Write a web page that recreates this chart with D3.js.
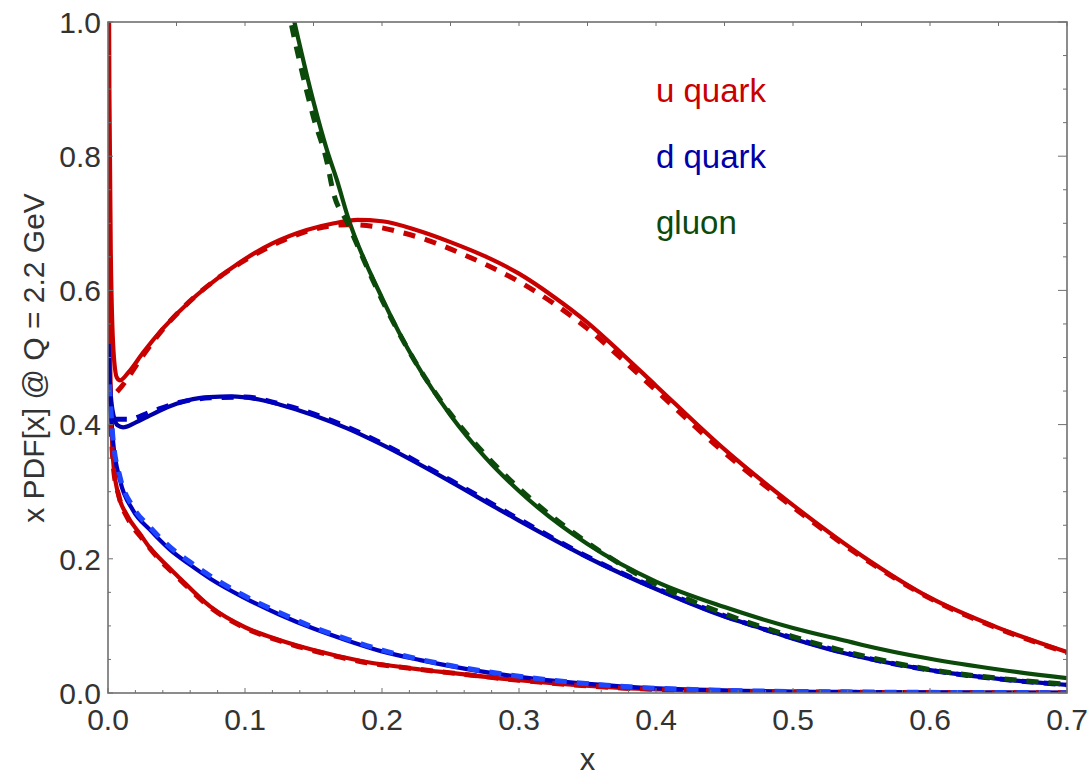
<!DOCTYPE html>
<html><head><meta charset="utf-8">
<script src="https://cdn.jsdelivr.net/npm/d3@7"></script>
<style>body{margin:0;background:#fff}svg{display:block}text{font-family:"Liberation Sans",Arial,sans-serif}</style>
</head><body><svg id="c" width="1090" height="776"></svg>
<script>
// ---- data (x, x*PDF) ----
const uSolid = [[0.0002,1.30],[0.001,0.90],[0.002,0.66],[0.004,0.51],[0.0065,0.470],[0.0088,0.466],[0.015,0.478],[0.0255,0.507],[0.04,0.543],[0.062,0.588],[0.08,0.618],[0.0964,0.642],[0.12,0.670],[0.145,0.690],[0.165,0.700],[0.182,0.705],[0.2,0.703],[0.225,0.690],[0.25,0.672],[0.275,0.651],[0.3,0.625],[0.325,0.591],[0.35,0.552],[0.375,0.506],[0.4,0.458],[0.45,0.363],[0.5,0.280],[0.55,0.205],[0.6,0.142],[0.65,0.097],[0.7,0.061]];
const uDashed = [[0.0066,0.449],[0.01,0.457],[0.0255,0.503],[0.04,0.542],[0.062,0.588],[0.08,0.618],[0.1,0.645],[0.125,0.672],[0.145,0.688],[0.175,0.698],[0.195,0.695],[0.213,0.687],[0.233,0.675],[0.26,0.653],[0.3,0.613],[0.325,0.581],[0.35,0.543],[0.375,0.498],[0.4,0.451],[0.45,0.358],[0.5,0.277],[0.55,0.203],[0.6,0.141],[0.65,0.096],[0.7,0.060]];
const dSolid = [[0.0003,0.52],[0.001,0.48],[0.002,0.445],[0.004,0.414],[0.007,0.399],[0.011,0.396],[0.02,0.403],[0.03,0.413],[0.038,0.421],[0.05,0.431],[0.062,0.438],[0.074,0.441],[0.09,0.442],[0.111,0.437],[0.125,0.430],[0.15,0.414],[0.175,0.394],[0.2,0.370],[0.25,0.315],[0.286,0.273],[0.3,0.257],[0.359,0.193],[0.4,0.155],[0.45,0.114],[0.476,0.097],[0.5,0.081],[0.54,0.058],[0.6,0.034],[0.65,0.021],[0.7,0.012]];
const dDashed = [[0.005,0.408],[0.015,0.408],[0.03,0.418],[0.05,0.432],[0.075,0.440],[0.1,0.441],[0.125,0.431],[0.15,0.416],[0.175,0.396],[0.2,0.372],[0.25,0.317],[0.3,0.259],[0.35,0.203],[0.4,0.156],[0.45,0.115],[0.5,0.082],[0.55,0.054],[0.6,0.034],[0.65,0.021],[0.7,0.012]];
const ubarSolid = [[0.0002,1.10],[0.001,0.60],[0.002,0.45],[0.0036,0.350],[0.007,0.300],[0.0139,0.265],[0.0234,0.237],[0.0307,0.216],[0.038,0.200],[0.05,0.176],[0.0745,0.129],[0.1,0.098],[0.125,0.079],[0.15,0.064],[0.184,0.048],[0.228,0.035],[0.25,0.030],[0.3,0.019],[0.374,0.0075],[0.45,0.003],[0.55,0.001],[0.7,0.0003]];
const ubarDashed = [[0.002,0.40],[0.004,0.335],[0.008,0.293],[0.015,0.258],[0.025,0.230],[0.038,0.198],[0.05,0.174],[0.075,0.127],[0.1,0.097],[0.125,0.078],[0.15,0.063],[0.184,0.047],[0.228,0.035],[0.25,0.030],[0.3,0.019],[0.374,0.0075],[0.45,0.003],[0.55,0.001],[0.7,0.0003]];
const dbarSolid = [[0.0002,0.52],[0.001,0.47],[0.0036,0.377],[0.0088,0.317],[0.018,0.273],[0.0307,0.243],[0.045,0.214],[0.06,0.191],[0.075,0.170],[0.0985,0.143],[0.125,0.117],[0.15,0.096],[0.175,0.078],[0.2,0.062],[0.228,0.049],[0.25,0.040],[0.3,0.024],[0.374,0.010],[0.45,0.004],[0.55,0.0015],[0.7,0.0005]];
const dbarDashed = [[0.001,0.46],[0.0036,0.380],[0.0088,0.322],[0.018,0.278],[0.0307,0.247],[0.045,0.218],[0.06,0.195],[0.075,0.174],[0.0985,0.146],[0.125,0.120],[0.15,0.098],[0.175,0.080],[0.2,0.064],[0.228,0.050],[0.25,0.041],[0.3,0.025],[0.374,0.010],[0.45,0.004],[0.55,0.0015],[0.7,0.0005]];
const gSolid = [[0.13,1.061],[0.135,1.01],[0.14,0.965],[0.15,0.881],[0.16,0.808],[0.167,0.765],[0.175,0.710],[0.2,0.589],[0.225,0.491],[0.25,0.414],[0.275,0.352],[0.3,0.301],[0.35,0.222],[0.4,0.166],[0.45,0.128],[0.476,0.111],[0.5,0.097],[0.54,0.077],[0.55,0.072],[0.6,0.051],[0.65,0.035],[0.7,0.022]];
const gDashed = [[0.128,1.06],[0.133,1.005],[0.14,0.94],[0.15,0.858],[0.16,0.790],[0.164,0.750],[0.175,0.700],[0.2,0.586],[0.225,0.491],[0.25,0.416],[0.275,0.356],[0.3,0.305],[0.35,0.224],[0.4,0.162],[0.45,0.118],[0.5,0.084],[0.55,0.056],[0.6,0.035],[0.65,0.022],[0.7,0.013]];

const xTicks = [0.0,0.1,0.2,0.3,0.4,0.5,0.6,0.7];
const yTicks = [0.0,0.2,0.4,0.6,0.8,1.0];
const legendLabels = ["u quark","d quark","gluon"];
const xTitle = "x";
const yTitle = "x PDF[x] @ Q = 2.2 GeV";

// ---- layout ----
const svg = d3.select("#c");
const L=108,R=1067,T=22,B=693;
const x = d3.scaleLinear().domain([0,0.7]).range([L,R]);
const y = d3.scaleLinear().domain([0,1]).range([B,T]);

svg.append("defs").append("clipPath").attr("id","clip")
  .append("rect").attr("x",L).attr("y",T).attr("width",R-L).attr("height",B-T);

const RED="#c80000", BLUE="#0000a8", BLUE2="#0000c0", BLUEB="#1e46ff", GREEN="#0b4a0b";
const line = d3.line().x(d=>x(d[0])).y(d=>y(d[1])).curve(d3.curveMonotoneX);
const g = svg.append("g").attr("clip-path","url(#clip)");
function draw(data,color,w,dash){
  const p=g.append("path").datum(data).attr("d",line).attr("fill","none")
   .attr("stroke",color).attr("stroke-width",w).attr("stroke-linejoin","round");
  if(dash) p.attr("stroke-dasharray",dash);
}
// solid curves
draw(ubarSolid,RED,4.2);
draw(dbarSolid,BLUE2,4.2);
draw(uSolid,RED,4.2);
draw(dSolid,BLUE,4.2);
draw(gSolid,GREEN,4.2);
// dashed curves
draw(ubarDashed,RED,5,"12,10");
draw(dbarDashed,BLUEB,5,"12,10");
draw(uDashed,RED,5,"12,10");
draw(dDashed,BLUE2,5,"12,10");
draw(gDashed,GREEN,5,"12,10");

// ---- frame & axes ----
const ax = svg.append("g").attr("stroke","#707070").attr("stroke-width",1.6);
ax.append("rect").attr("x",L).attr("y",T).attr("width",R-L).attr("height",B-T).attr("fill","none");
const xMinor = d3.range(0,0.7001,0.02);
const yMinor = d3.range(0,1.0001,0.05);
xMinor.forEach(v=>{const maj=Math.abs(v*10-Math.round(v*10))<1e-6;
  ax.append("line").attr("x1",x(v)).attr("x2",x(v)).attr("y1",B).attr("y2",B-(maj?5:3)).attr("stroke-width",1);});
d3.range(0,0.7001,0.05).forEach(v=>{
  ax.append("line").attr("x1",x(v)).attr("x2",x(v)).attr("y1",T).attr("y2",T+4).attr("stroke-width",1);});
yMinor.forEach(v=>{const maj=Math.abs(v*5-Math.round(v*5))<1e-6;
  ax.append("line").attr("x1",L).attr("x2",L+(maj?5:3)).attr("y1",y(v)).attr("y2",y(v)).attr("stroke-width",1);
  ax.append("line").attr("x1",R).attr("x2",R-(maj?9:4)).attr("y1",y(v)).attr("y2",y(v)).attr("stroke-width",1);});

const lab = svg.append("g").attr("fill","#333").style("font-size","30px");
lab.selectAll(".xt").data(xTicks).enter().append("text")
  .attr("x",d=>x(d)).attr("y",730).attr("text-anchor","middle").text(d=>d.toFixed(1));
lab.selectAll(".yt").data(yTicks).enter().append("text")
  .attr("x",101).attr("y",d=>y(d)).attr("dy","0.36em").attr("text-anchor","end").text(d=>d.toFixed(1));
svg.append("text").attr("x",(L+R)/2).attr("y",770).attr("text-anchor","middle")
  .attr("fill","#333").style("font-size","31px").text(xTitle);
svg.append("text").attr("transform","translate(44,358) rotate(-90)").attr("text-anchor","middle")
  .attr("fill","#333").style("font-size","30px").text(yTitle);

// ---- legend ----
const legColors=[RED,BLUE,GREEN];
svg.selectAll(".lg").data(legendLabels).enter().append("text")
  .attr("x",656).attr("y",(d,i)=>102+i*66).attr("fill",(d,i)=>legColors[i])
  .style("font-size","33px").text(d=>d);
</script></body></html>
